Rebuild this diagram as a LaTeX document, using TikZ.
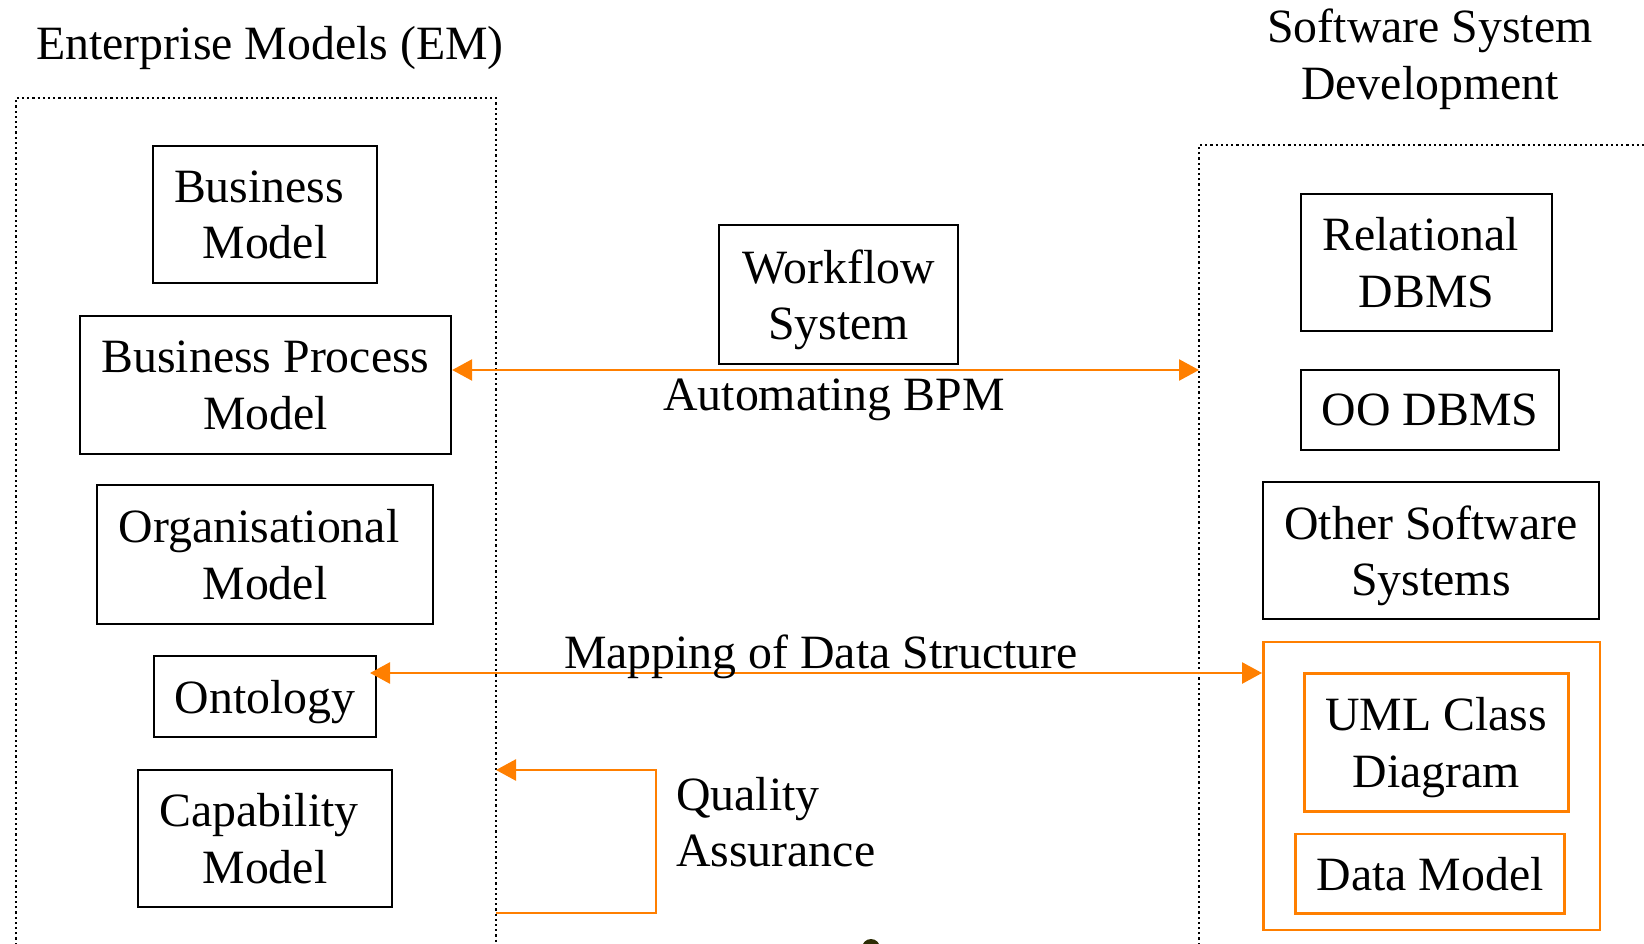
\documentclass[tikz,border=0pt]{standalone}
\usepackage{fontspec}
\setmainfont{Liberation Serif}
\usetikzlibrary{arrows.meta}
\definecolor{flow}{RGB}{255,127,0}
\definecolor{speck}{RGB}{45,45,5}
\begin{document}
\begin{tikzpicture}[x=1pt,y=-1pt,
  every node/.style={font=\fontsize{47.8}{56.6}\selectfont, inner sep=0pt},
  box/.style={draw, line width=2.3pt, align=center, text depth=0pt},
  obox/.style={draw=flow, line width=2.6pt, align=center, text depth=0pt},
  region/.style={line width=2.2pt, dash pattern=on 2.2pt off 3pt},
  link/.style={draw=flow, line width=2.6pt},
  tipend/.style={-{Triangle[length=20pt,width=21pt]}},
  biarrow/.style={{Triangle[length=20pt,width=21pt]}-{Triangle[length=20pt,width=21pt]}}
]
\useasboundingbox (0,0) rectangle (1644,944);
\newcommand{\tsp}{\kern0.25em}

% dotted regions
\draw[region] (16,950) -- (16,98) -- (496,98) -- (496,950);
\draw[region] (1199,950) -- (1199,145) -- (1650,145);

% titles
\node[anchor=base] (emTitle) at (270,60) {Enterprise Models (EM)};
\node[align=center] (ssTitle) at (1430,59) {Software System\\Development};

% enterprise models
\node[box, minimum width=224pt, minimum height=137pt] (bm) at (265,214.5) {Business\tsp\\Model};
\node[box, minimum width=371pt, minimum height=138pt] (bpm) at (265.5,385) {Business Process\\Model};
\node[box, minimum width=335.5pt, minimum height=139pt] (om) at (265,554.5) {Organisational\tsp\\Model};
\node[box, minimum width=222pt, minimum height=81pt] (ont) at (265,696.5) {Ontology};
\node[box, minimum width=254pt, minimum height=137pt] (cap) at (265,838.5) {Capability\tsp\\Model};

% middle
\node[box, minimum width=239pt, minimum height=139pt] (wf) at (838.5,294.5) {Workflow\\System};

% software system development
\node[box, minimum width=251pt, minimum height=137pt] (rdb) at (1426.5,262.5) {Relational\tsp\\DBMS};
\node[box, minimum width=258pt, minimum height=80pt] (oo) at (1430,410) {OO DBMS};
\node[box, minimum width=336pt, minimum height=137pt] (oss) at (1431,550.5) {Other Software\\Systems};
\node[obox, minimum width=336.7pt, minimum height=287.7pt] (outer) at (1431.7,786) {};
\node[obox, minimum width=264pt, minimum height=138.4pt] (uml) at (1436.3,742.5) {UML Class\\Diagram};
\node[obox, minimum width=268.6pt, minimum height=79.3pt] (dm) at (1430,873.7) {Data Model};

% automating BPM
\coordinate (bpmTarget) at (1199,370);
\draw[link, biarrow] (bpm.east |- bpmTarget) -- (bpmTarget);
\node[anchor=base] (autoLbl) at (834,410) {Automating BPM};

% mapping of data structure
\coordinate (ontTip) at (370,673);
\draw[link, biarrow] (ontTip) -- (outer.west |- ontTip);
\node[anchor=base] (mapLbl) at (821,668) {Mapping of Data Structure};

% quality assurance loop
\coordinate (qaOut) at (496,913);
\coordinate (qaTurn) at (656,770);
\coordinate (qaIn) at (496,770);
\draw[link, tipend, line join=miter] (qaOut) -| (qaTurn) -- (qaIn);
\node[align=left, anchor=west] (qaLbl) at (676,822) {Quality\\Assurance};

% small mark on the lower edge
\fill[speck] (871,948) circle (9pt);
\end{tikzpicture}
\end{document}
